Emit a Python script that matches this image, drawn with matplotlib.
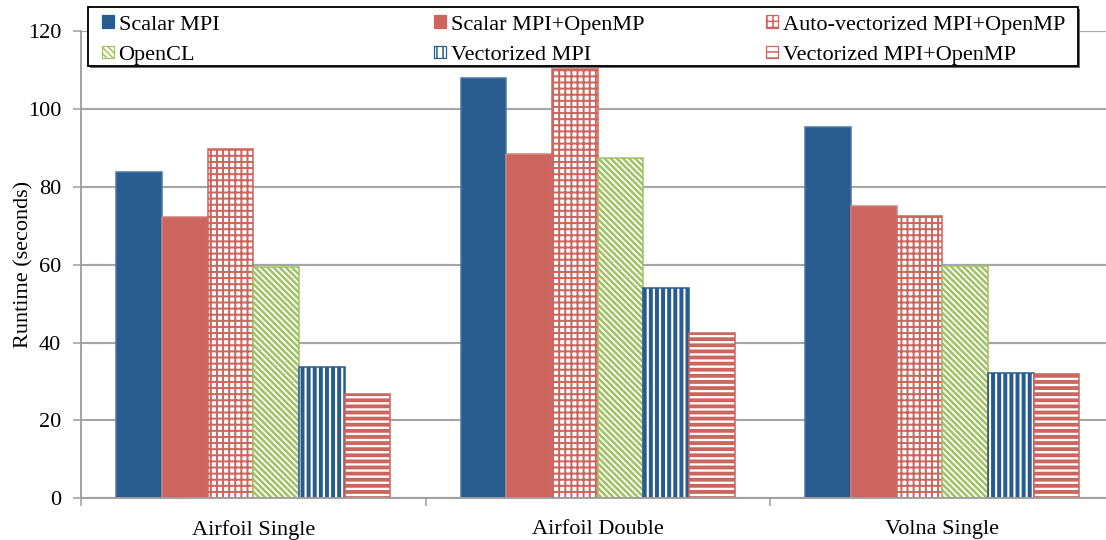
import numpy as np
import matplotlib
matplotlib.use("Agg")
import matplotlib.pyplot as plt
from matplotlib.patches import Patch, Rectangle

# ---- data -------------------------------------------------------------
categories = ["Airfoil Single", "Airfoil Double", "Volna Single"]
series_names = [
    "Scalar MPI",
    "Scalar MPI+OpenMP",
    "Auto-vectorized MPI+OpenMP",
    "OpenCL",
    "Vectorized MPI",
    "Vectorized MPI+OpenMP",
]
scalar_mpi = [83.9, 108.0, 95.3]
scalar_mpi_omp = [72.3, 88.3, 75.1]
auto_vec_mpi_omp = [89.6, 110.2, 72.4]
opencl = [59.3, 87.3, 59.6]
vec_mpi = [33.8, 54.1, 32.2]
vec_mpi_omp = [26.9, 42.5, 31.9]
y_ticks = [0, 20, 40, 60, 80, 100, 120]

series_values = [scalar_mpi, scalar_mpi_omp, auto_vec_mpi_omp,
                 opencl, vec_mpi, vec_mpi_omp]

# ---- style ------------------------------------------------------------
BLUE = "#285C8E"
RED = "#CB655D"
GREEN = "#A3C166"
GRID = "#A6A6A6"
SPINE = "#9E9E9E"

# (face, edge, hatch, hatch linewidth)
styles = [
    (BLUE, "#4A77A6", None, 1.0),
    (RED, "#D4807A", None, 1.0),
    ("white", RED, "+++", 1.3),
    ("white", GREEN, "\\" * 6, 1.7),
    ("white", BLUE, "|||", 2.6),
    ("white", RED, "---", 2.5),
]

FONT = ["Liberation Serif", "DejaVu Serif"]
FS = 14.6
plt.rcParams["font.family"] = FONT
plt.rcParams["font.size"] = FS

DPI = 110
fig = plt.figure(figsize=(1106 / DPI, 540 / DPI), dpi=DPI)
fig.patch.set_facecolor("white")

# axes extends slightly past the right border of the figure
ax = fig.add_axes([81 / 1106, 41.7 / 540, 1033.5 / 1106, 467.4 / 540])
ax.set_facecolor("white")

x = np.arange(len(categories))
width = 0.1327
for k, (vals, (face, edge, hatch, hlw)) in enumerate(zip(series_values, styles)):
    with plt.rc_context({"hatch.linewidth": hlw}):
        bars = ax.bar(x + (k - 2.5) * width, vals, width,
                      color=face, edgecolor=edge, hatch=hatch,
                      linewidth=1.0, zorder=3, label=series_names[k])
        for b in bars:
            if hasattr(b, "set_hatch_linewidth"):
                b.set_hatch_linewidth(hlw)

ax.set_xlim(-0.5, 2.5)
ax.set_ylim(0, 120)
ax.set_yticks(y_ticks)
ax.yaxis.grid(True, color=GRID, linewidth=1.4, zorder=0)
ax.set_axisbelow(True)

for side in ("top", "right"):
    ax.spines[side].set_visible(False)
for side in ("left", "bottom"):
    ax.spines[side].set_color(SPINE)
    ax.spines[side].set_linewidth(1.2)
    ax.spines[side].set_zorder(4)

ax.tick_params(axis="y", which="major", length=5, width=1.0, color=SPINE,
               pad=8, labelsize=FS)
ax.set_xticks([-0.5, 0.5, 1.5, 2.5])
ax.set_xticklabels([])
ax.tick_params(axis="x", which="major", length=5, width=1.0, color=SPINE)
ax.set_xticks(x, minor=True)
ax.set_xticklabels(categories, minor=True)
ax.tick_params(axis="x", which="minor", length=0, pad=14, labelsize=FS)

ax.set_ylabel("Runtime (seconds)", fontsize=FS, labelpad=-4)

# ---- legend -----------------------------------------------------------
W, H = 1106.0, 540.0
box_l, box_t, box_r, box_b = 88, 7, 1078, 66
shadow = Rectangle(((box_l + 2.0) / W, 1 - (box_b + 2.0) / H),
                   (box_r - box_l) / W, (box_b - box_t) / H,
                   transform=fig.transFigure, facecolor="#6E6E6E",
                   edgecolor="none", zorder=9)
frame = Rectangle((box_l / W, 1 - box_b / H),
                  (box_r - box_l) / W, (box_b - box_t) / H,
                  transform=fig.transFigure, facecolor="white",
                  edgecolor="black", linewidth=1.2, zorder=10)
fig.add_artist(shadow)
fig.add_artist(frame)

handles = []
for name, (face, edge, hatch, hlw) in zip(series_names, styles):
    p = Patch(facecolor=face, edgecolor=edge if hatch else face,
              hatch=hatch, linewidth=0.8, label=name)
    handles.append(p)

col_x = [102, 434, 766]
columns = [[0, 3], [1, 4], [2, 5]]
for cx, idx in zip(col_x, columns):
    leg = fig.legend([handles[i] for i in idx], [series_names[i] for i in idx],
                     loc="upper left", bbox_to_anchor=(cx / W, 1 - 15.5 / H),
                     bbox_transform=fig.transFigure, frameon=False,
                     borderpad=0, borderaxespad=0, handlelength=0.52,
                     handleheight=0.48, handletextpad=0.22, labelspacing=0.5,
                     fontsize=FS)
    leg.set_zorder(11)

fig.savefig("out.png", dpi=DPI, facecolor="white")
